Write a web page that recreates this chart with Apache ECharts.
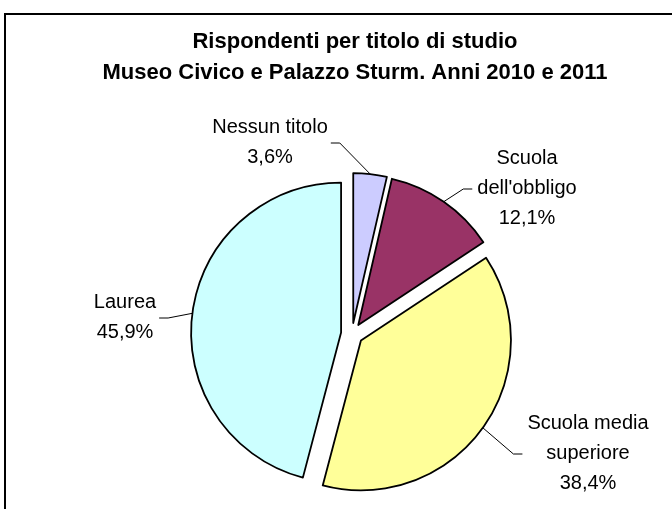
<!DOCTYPE html>
<html>
<head>
<meta charset="utf-8">
<script src="https://cdn.jsdelivr.net/npm/echarts@6/dist/echarts.min.js"></script>
<style>
  html, body { margin: 0; padding: 0; background: #fff; }
  #chart { width: 672px; height: 509px; }
</style>
</head>
<body>
<div id="chart"></div>
<script>
const categories = ["Nessun titolo", "Scuola\ndell'obbligo", "Scuola media\nsuperiore", "Laurea"];
const shares = [3.6, 12.1, 38.4, 45.9];
const colors = ["#ccccff", "#993366", "#ffff99", "#ccffff"];
// label centres (x, y) for each slice
const labelPos = [[270, 142], [527, 188], [588, 453], [125, 317]];

const font = "'Liberation Sans', Arial, sans-serif";
const pieCenter = [352, 334];
const pieRadius = 150;
const explode = 11;

const chart = echarts.init(document.getElementById("chart"));

const fmtPct = (v) => v.toFixed(1).replace(".", ",") + "%";

const option = {
  animation: false,
  backgroundColor: "#fff",
  title: {
    text: "Rispondenti per titolo di studio\nMuseo Civico e Palazzo Sturm. Anni 2010 e 2011",
    left: 350,
    top: 21,
    textAlign: "center",
    textStyle: {
      fontFamily: font,
      fontSize: 22,
      fontWeight: "bold",
      color: "#000",
      lineHeight: 31
    }
  },
  graphic: [
    {
      type: "rect",
      shape: { x: 5, y: 14, width: 700, height: 520 },
      style: { fill: null, stroke: "#000", lineWidth: 2 },
      silent: true
    }
  ],
  series: [
    {
      // exploded slices
      type: "pie",
      center: pieCenter,
      radius: pieRadius,
      startAngle: 90,
      clockwise: true,
      selectedMode: "multiple",
      selectedOffset: explode,
      emphasis: { disabled: true },
      itemStyle: { borderColor: "#000", borderWidth: 1.8 },
      select: { itemStyle: { borderColor: "#000", borderWidth: 1.8 } },
      label: { show: false },
      labelLine: { show: false },
      data: categories.map((name, i) => ({
        name: name,
        value: shares[i],
        selected: true,
        itemStyle: { color: colors[i] },
        select: { itemStyle: { color: colors[i] } }
      }))
    },
    {
      // same data, invisible, only carries the labels
      type: "pie",
      center: pieCenter,
      radius: pieRadius,
      startAngle: 90,
      clockwise: true,
      silent: true,
      selectedMode: false,
      avoidLabelOverlap: false,
      emphasis: { disabled: true },
      itemStyle: { color: "transparent", borderWidth: 0 },
      label: {
        show: true,
        position: "outside",
        fontFamily: font,
        fontSize: 20,
        color: "#000",
        lineHeight: 30,
        align: "center",
        formatter: (p) => p.name + "\n" + fmtPct(p.value)
      },
      labelLine: {
        show: true,
        length: 12,
        length2: 10,
        lineStyle: { color: "#000", width: 1 }
      },
      labelLayout: (params) => {
        const pos = labelPos[params.dataIndex];
        const w = params.labelRect.width;
        const p0 = params.labelLinePoints[0];
        const dx = p0[0] - pieCenter[0];
        const dy = p0[1] - pieCenter[1];
        const len = Math.hypot(dx, dy);
        const start = [p0[0] + explode * dx / len, p0[1] + explode * dy / len];
        const onLeft = pos[0] < start[0];
        const endX = onLeft ? pos[0] + w / 2 + 3 : pos[0] - w / 2 - 5;
        const elbowX = onLeft ? endX + 9 : endX - 9;
        return {
          x: pos[0],
          y: pos[1],
          align: "center",
          verticalAlign: "middle",
          labelLinePoints: [start, [elbowX, pos[1] + 1], [endX, pos[1] + 1]]
        };
      },
      data: categories.map((name, i) => ({ name: name, value: shares[i] }))
    }
  ]
};

chart.setOption(option);
</script>
</body>
</html>
